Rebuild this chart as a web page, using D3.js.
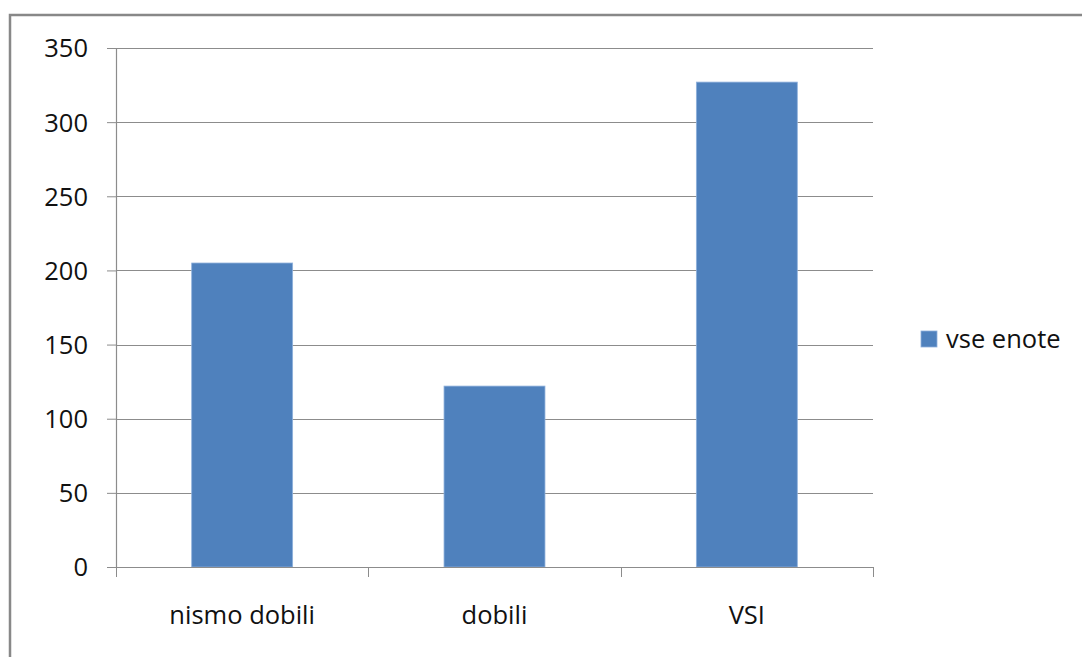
<!DOCTYPE html>
<html>
<head>
<meta charset="utf-8">
<style>
body { margin: 0; background: #fff; }
text { font-family: "Open Sans", sans-serif; fill: #111; }
</style>
</head>
<body>
<div id="ch1"></div>
<script src="https://d3js.org/d3.v7.min.js"></script>
<script>
// data
var categories = ["nismo dobili", "dobili", "VSI"];
var values = [205, 122, 327];
var seriesName = "vse enote";
var yTicks = [0, 50, 100, 150, 200, 250, 300, 350];

var W = 1082, H = 657;
var margin = {top: 48, left: 116, right: 209, bottom: 90};
var width = W - margin.left - margin.right,
    height = 567 - margin.top;
var fs = "25.5px";

var svg = d3.select("#ch1").append("svg")
    .attr("width", W)
    .attr("height", H);

// outer chart frame
svg.append("rect")
    .attr("x", 10).attr("y", 15)
    .attr("width", W + 20).attr("height", H + 20)
    .attr("fill", "none")
    .attr("stroke", "#888")
    .attr("stroke-width", 2.5);

var g = svg.append("g")
    .attr("transform", "translate(" + margin.left + "," + margin.top + ")");

var x = d3.scaleBand()
    .domain(categories)
    .range([0, width])
    .paddingInner(0.6)
    .paddingOuter(0.3);

var y = d3.scaleLinear()
    .domain([0, 350])
    .range([height, 0]);

// gridlines
g.selectAll(".grid")
  .data(yTicks.slice(1))
  .enter().append("line")
    .attr("x1", 0).attr("x2", width)
    .attr("y1", function(d) { return Math.round(y(d)) + 0.5; })
    .attr("y2", function(d) { return Math.round(y(d)) + 0.5; })
    .attr("stroke", "#8c8c8c")
    .attr("stroke-width", 1.2);

// bars
g.selectAll(".bar")
  .data(values)
  .enter().append("rect")
    .attr("x", function(d, i) { return x(categories[i]); })
    .attr("y", function(d) { return y(d); })
    .attr("width", x.bandwidth())
    .attr("height", function(d) { return height - y(d); })
    .attr("fill", "#4f81bd")
    .attr("stroke", "#8eb0dc")
    .attr("stroke-width", 0.8);

// y axis
var yAxis = g.append("g")
    .call(d3.axisLeft(y).tickValues(yTicks).tickSize(9).tickPadding(19).tickSizeOuter(0));
yAxis.select(".domain").attr("stroke", "#8c8c8c").attr("stroke-width", 1.2);
yAxis.selectAll(".tick line").attr("stroke", "#8c8c8c");
yAxis.selectAll("text")
    .style("font-size", fs)
    .attr("dy", "0.35em");

// x axis with boundary ticks
var xAxis = g.append("g")
    .attr("transform", "translate(0," + height + ")");
xAxis.append("line")
    .attr("x1", 0).attr("x2", width)
    .attr("y1", 0.5).attr("y2", 0.5)
    .attr("stroke", "#8c8c8c")
    .attr("stroke-width", 1.2);
var bounds = d3.range(categories.length + 1).map(function(i) { return i * width / categories.length; });
xAxis.selectAll(".xt")
  .data(bounds)
  .enter().append("line")
    .attr("x1", function(d) { return Math.round(d) + 0.5; })
    .attr("x2", function(d) { return Math.round(d) + 0.5; })
    .attr("y1", 0).attr("y2", 10)
    .attr("stroke", "#8c8c8c");
xAxis.selectAll(".xl")
  .data(categories)
  .enter().append("text")
    .attr("x", function(d) { return x(d) + x.bandwidth() / 2; })
    .attr("y", 57)
    .attr("text-anchor", "middle")
    .style("font-size", fs)
    .text(function(d) { return d; });

// legend
var leg = svg.append("g").attr("transform", "translate(921,331)");
leg.append("rect")
    .attr("width", 16).attr("height", 16)
    .attr("fill", "#4f81bd")
    .attr("stroke", "#8eb0dc")
    .attr("stroke-width", 0.8);
leg.append("text")
    .attr("x", 25).attr("y", 17)
    .style("font-size", fs)
    .text(seriesName);
</script>
</body>
</html>
